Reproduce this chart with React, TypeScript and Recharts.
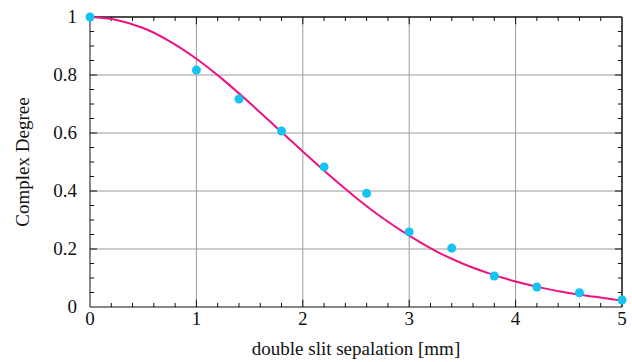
import React from 'react';
import { ComposedChart, Line, Scatter, XAxis, YAxis, ReferenceLine } from 'recharts';

// measured complex degree vs slit separation
const measured = [
  { x: 0, y: 1 },
  { x: 1, y: 0.817 },
  { x: 1.4, y: 0.717 },
  { x: 1.8, y: 0.607 },
  { x: 2.2, y: 0.483 },
  { x: 2.6, y: 0.392 },
  { x: 3, y: 0.259 },
  { x: 3.4, y: 0.203 },
  { x: 3.8, y: 0.107 },
  { x: 4.2, y: 0.069 },
  { x: 4.6, y: 0.049 },
  { x: 5, y: 0.024 },
];

// fitted curve
const fitX = [0, 0.25, 0.5, 0.75, 1, 1.25, 1.5, 1.75, 2, 2.25, 2.5, 2.75, 3, 3.25, 3.5, 3.75, 4, 4.25, 4.5, 4.75, 5];
const fitY = [1, 0.99, 0.962, 0.916, 0.856, 0.784, 0.704, 0.62, 0.536, 0.454, 0.377, 0.307, 0.246, 0.193, 0.15, 0.116, 0.088, 0.066, 0.048, 0.035, 0.022];
const fit = fitX.map((x, i) => ({ x, y: fitY[i] }));

const xMajor = [0, 1, 2, 3, 4, 5];
const xInner = [1, 2, 3, 4];
const xMinor = [0.2, 0.4, 0.6, 0.8, 1.2, 1.4, 1.6, 1.8, 2.2, 2.4, 2.6, 2.8, 3.2, 3.4, 3.6, 3.8, 4.2, 4.4, 4.6, 4.8];
const yMajor = [0, 0.2, 0.4, 0.6, 0.8, 1];
const yInner = [0.2, 0.4, 0.6, 0.8];
const yMinor = [0.05, 0.1, 0.15, 0.25, 0.3, 0.35, 0.45, 0.5, 0.55, 0.65, 0.7, 0.75, 0.85, 0.9, 0.95];

const FONT = 'Liberation Serif';
const INK = '#111';
const GRID = '#9a9a9a';

// inward tick lengths in data units (x span 5, y span 1)
const XT_MAJ = 0.025;
const XT_MIN = 0.014;
const YT_MAJ = 0.066;
const YT_MIN = 0.038;

const BottomTick = (props: any) => {
  const { x, y, payload } = props;
  return (
    <text x={x} y={y + 18} textAnchor="middle" style={{ fontFamily: FONT, fontSize: 19, fill: INK }}>
      {payload.value}
    </text>
  );
};

const LeftTick = (props: any) => {
  const { x, y, payload } = props;
  return (
    <text x={x - 13} y={y + 6} textAnchor="end" style={{ fontFamily: FONT, fontSize: 19, fill: INK }}>
      {payload.value}
    </text>
  );
};

const App = () => {
  return (
    <div style={{ position: 'absolute', left: 0, top: 0, background: '#fff' }}>
      <ComposedChart width={632} height={362} data={fit} margin={{ top: 17, right: 10, bottom: 0, left: 0 }}>
        {xInner.map((v) => (
          <ReferenceLine key={'gx' + v} x={v} stroke={GRID} strokeWidth={1} />
        ))}
        {yInner.map((v) => (
          <ReferenceLine key={'gy' + v} y={v} stroke={GRID} strokeWidth={1} />
        ))}
        {xInner.map((v) => (
          <ReferenceLine key={'xb' + v} segment={[{ x: v, y: 0 }, { x: v, y: XT_MAJ }]} stroke={INK} ifOverflow="visible" />
        ))}
        {xInner.map((v) => (
          <ReferenceLine key={'xt' + v} segment={[{ x: v, y: 1 }, { x: v, y: 1 - XT_MAJ }]} stroke={INK} ifOverflow="visible" />
        ))}
        {xMinor.map((v) => (
          <ReferenceLine key={'xbm' + v} segment={[{ x: v, y: 0 }, { x: v, y: XT_MIN }]} stroke={INK} ifOverflow="visible" />
        ))}
        {xMinor.map((v) => (
          <ReferenceLine key={'xtm' + v} segment={[{ x: v, y: 1 }, { x: v, y: 1 - XT_MIN }]} stroke={INK} ifOverflow="visible" />
        ))}
        {yInner.map((v) => (
          <ReferenceLine key={'yl' + v} segment={[{ x: 0, y: v }, { x: YT_MAJ, y: v }]} stroke={INK} ifOverflow="visible" />
        ))}
        {yInner.map((v) => (
          <ReferenceLine key={'yr' + v} segment={[{ x: 5, y: v }, { x: 5 - YT_MAJ, y: v }]} stroke={INK} ifOverflow="visible" />
        ))}
        {yMinor.map((v) => (
          <ReferenceLine key={'ylm' + v} segment={[{ x: 0, y: v }, { x: YT_MIN, y: v }]} stroke={INK} ifOverflow="visible" />
        ))}
        {yMinor.map((v) => (
          <ReferenceLine key={'yrm' + v} segment={[{ x: 5, y: v }, { x: 5 - YT_MIN, y: v }]} stroke={INK} ifOverflow="visible" />
        ))}
        <ReferenceLine y={1} stroke={INK} strokeWidth={1.5} ifOverflow="visible" />
        <ReferenceLine x={5} stroke={INK} strokeWidth={1.5} ifOverflow="visible" />
        <XAxis
          dataKey="x"
          type="number"
          domain={[0, 5]}
          ticks={xMajor}
          interval={0}
          tickSize={0}
          tickMargin={0}
          tickLine={false}
          tick={<BottomTick />}
          stroke={INK}
          height={55}
          label={{
            value: 'double slit sepalation [mm]',
            position: 'insideBottom',
            offset: 7,
            fill: INK,
            style: { fontFamily: FONT, fontSize: 19 },
          }}
        />
        <YAxis
          dataKey="y"
          type="number"
          domain={[0, 1]}
          ticks={yMajor}
          interval={0}
          tickSize={0}
          tickMargin={0}
          tickLine={false}
          tick={<LeftTick />}
          stroke={INK}
          width={90}
          label={{
            value: 'Complex Degree',
            angle: -90,
            position: 'center',
            dx: -23,
            fill: INK,
            style: { fontFamily: FONT, fontSize: 19 },
          }}
        />
        <Line
          dataKey="y"
          type="monotone"
          stroke="#ee1280"
          strokeWidth={2}
          dot={false}
          isAnimationActive={false}
        />
        <Scatter data={measured} dataKey="y" fill="#14c3f2" shape="circle" isAnimationActive={false} />
      </ComposedChart>
    </div>
  );
};

export default App;
